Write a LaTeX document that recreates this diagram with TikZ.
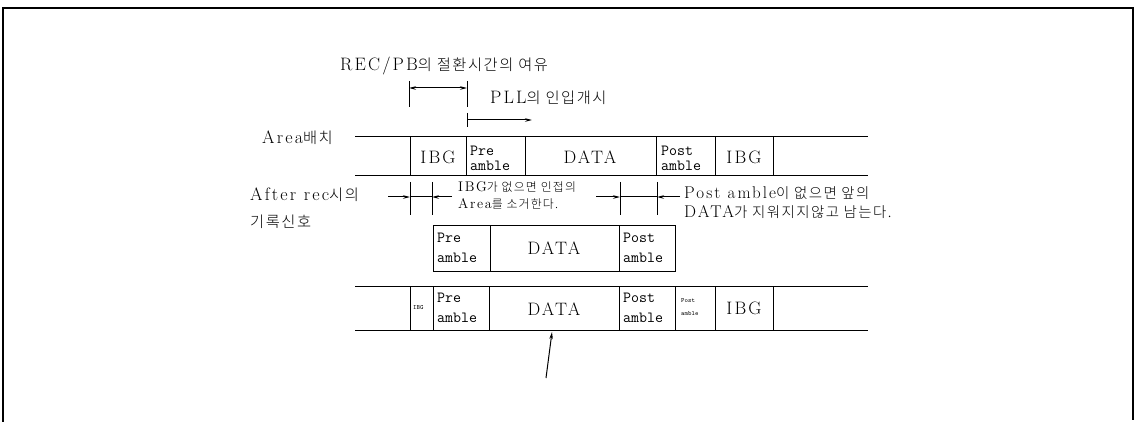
\documentclass[tikz,border=0pt]{standalone}
\usepackage{fontspec}
\setmainfont{Latin Modern Roman}[LetterSpace=12]
\IfFontExistsTF{Noto Sans CJK KR Light}
  {\newfontfamily\kr{Noto Sans CJK KR Light}[Scale=0.85,LetterSpace=10]}
  {\newfontfamily\kr{Noto Sans CJK KR}[Scale=0.85,LetterSpace=10]}
\usetikzlibrary{arrows.meta}
\begin{document}
\begin{tikzpicture}[x=1pt,y=-1pt,
  row/.style={line width=1pt},
  bar/.style={line width=1pt},
  dim/.style={line width=1pt,-{Stealth[length=7pt,width=3.5pt]}},
  big/.style={inner sep=0pt,font=\fontsize{18}{21}\selectfont},
  mid/.style={inner sep=0pt,font=\fontsize{14}{16}\selectfont},
  rgt/.style={inner sep=0pt,font=\fontsize{17}{20}\selectfont},
  tt/.style={inner sep=0pt,anchor=west,font=\fontsize{15.5}{17}\ttfamily},
  tiny/.style={inner sep=0pt,anchor=west,font=\fontsize{6.5}{8}\ttfamily}]
\useasboundingbox (0,0) rectangle (1137,422);
% border
\coordinate (bl) at (3,422); \coordinate (tl) at (3,8);
\coordinate (tr) at (1133,8); \coordinate (br) at (1133,420);
\draw[line width=1.3pt] (bl) -- (tl) -- (tr) -- (br);

% top labels
\node[big,anchor=west] (rec) at (340,66) {REC/PB{\kr 의 절환시간의 여유}};
\coordinate (b1t) at (409,81); \coordinate (b1b) at (409,107);
\coordinate (b2t) at (467,81); \coordinate (b2b) at (467,107);
\draw[bar] (b1t) -- (b1b) (b2t) -- (b2b);
\coordinate (ra) at (409,88); \coordinate (rb) at (467,88);
\draw[line width=1pt,{Stealth[length=7pt,width=3.5pt]}-{Stealth[length=7pt,width=3.5pt]}] (ra) -- (rb);
\node[big,anchor=west] (pll) at (490,98) {PLL{\kr 의 인입개시}};
\coordinate (p1) at (467,113); \coordinate (p2) at (467,127);
\draw[bar] (p1) -- (p2);
\coordinate (pa) at (467,120); \coordinate (pb) at (532,120);
\draw[dim] (pa) -- (pb);

% row 1
\node[big,anchor=east] (area) at (333,138) {Area{\kr 배치}};
\draw[row] (355,137) -- (868,137) (355,176) -- (868,176);
\foreach \x in {410,466,525,656,715,773} \draw[row] (\x,137) -- (\x,176);
\node[big] (ibg1) at (438,157) {IBG};
\node[tt] (pre1a) at (470,151) {Pre};
\node[tt] (pre1b) at (470,166) {amble};
\node[big] (data1) at (590,157) {DATA};
\node[tt] (post1a) at (661,151) {Post};
\node[tt] (post1b) at (661,166) {amble};
\node[big] (ibg1b) at (744,157) {IBG};

% after rec row
\node[big,anchor=west] (after) at (250,195) {After rec{\kr 시의}};
\node[big,anchor=west] (kirok) at (250,222) {\kr 기록신호};
\foreach \x in {410,432,620,657} \draw[bar] (\x,182) -- (\x,215);
\coordinate (l0) at (388,197); \coordinate (l1) at (410,197);
\coordinate (l2) at (432,197); \coordinate (l3) at (452,197);
\draw[dim] (l0) -- (l1); \draw[row] (l1) -- (l2); \draw[dim] (l3) -- (l2);
\coordinate (m0) at (596,197); \coordinate (m1) at (620,197);
\coordinate (m2) at (657,197); \coordinate (m3) at (680,197);
\draw[dim] (m0) -- (m1); \draw[row] (m1) -- (m2); \draw[dim] (m3) -- (m2);
\node[mid,anchor=west] (ibgno1) at (458,187) {IBG{\kr 가 없으면 인접의}};
\node[mid,anchor=west] (ibgno2) at (458,204) {Area{\kr 를 소거한다.}};
\node[rgt,anchor=west] (postno1) at (684,193) {Post amble{\kr 이 없으면 앞의}};
\node[rgt,anchor=west] (postno2) at (684,212) {DATA{\kr 가 지워지지않고 남는다.}};

% row 2 box
\draw[row] (433,225) rectangle (675,271);
\draw[row] (490,225) -- (490,271) (619,225) -- (619,271);
\node[tt] (pre2a) at (437,238) {Pre};
\node[tt] (pre2b) at (437,258) {amble};
\node[big] (data2) at (554,248) {DATA};
\node[tt] (post2a) at (623,238) {Post};
\node[tt] (post2b) at (623,258) {amble};

% row 3
\draw[row] (355,286) -- (868,286) (355,330) -- (868,330);
\foreach \x in {410,433,489,619,675,715,773} \draw[row] (\x,286) -- (\x,330);
\node[tiny] (ibg3s) at (413,308) {IBG};
\node[tt] (pre3a) at (437,298) {Pre};
\node[tt] (pre3b) at (437,318) {amble};
\node[big] (data3) at (554,309) {DATA};
\node[tt] (post3a) at (623,298) {Post};
\node[tt] (post3b) at (623,318) {amble};
\node[tiny] (post3sa) at (681,301) {Post};
\node[tiny] (post3sb) at (681,314) {amble};
\node[big] (ibg3) at (744,308) {IBG};

% bottom arrow
\coordinate (ua) at (546,378); \coordinate (ub) at (552,332);
\draw[dim] (ua) -- (ub);
\end{tikzpicture}
\end{document}
